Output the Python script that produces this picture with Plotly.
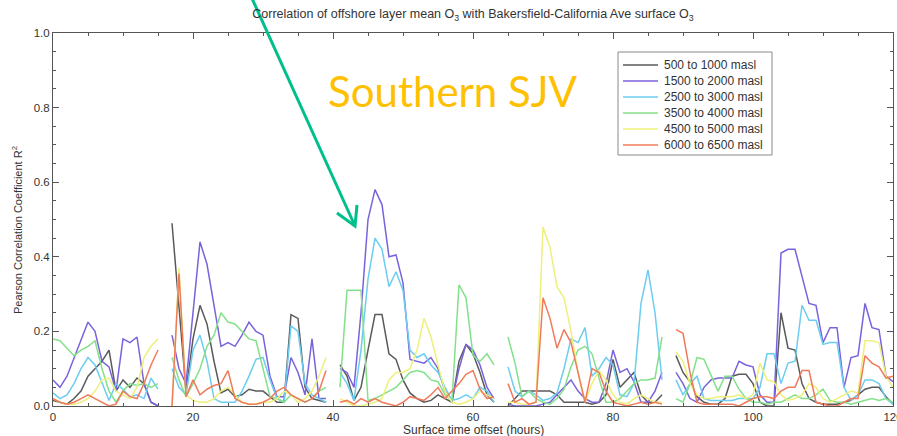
import plotly.graph_objects as go

# Hourly lag (hours) of surface O3 relative to the offshore layer mean
hours = list(range(0, 121))

# R^2 per altitude layer; None marks the gaps between daily segments
r2_500_1000 = [
    0.015, 0.01, 0.005, 0.02, 0.04, 0.08, 0.10, 0.12, 0.15, 0.04, 0.07, 0.05, 0.075, 0.06, 0.01, 0.0,
    None,
    0.49, 0.27, 0.04, 0.18, 0.27, 0.22, 0.12, 0.035, 0.045, 0.025, 0.03, 0.045, 0.04, 0.04, 0.025, 0.01,
    0.01, 0.245, 0.235, 0.05, 0.02, 0.015, 0.01,
    None,
    0.11, 0.08, 0.015, 0.05, 0.15, 0.245, 0.245, 0.14, 0.125, 0.07, 0.035, 0.02, 0.01, 0.015, 0.03, 0.02,
    0.01, 0.12, 0.165, 0.14, 0.09, 0.03, 0.01,
    None,
    0.0, 0.02, 0.04, 0.04, 0.04, 0.04, 0.04, 0.03, 0.01, 0.01, 0.01, 0.01, 0.005, 0.01, 0.03, 0.125,
    0.05, 0.07, 0.09, 0.03, 0.01, 0.01, 0.03,
    None,
    0.135, 0.09, 0.065, 0.025, 0.01, 0.005, 0.005, 0.02, 0.08, 0.085, 0.085, 0.06, 0.01, 0.0, 0.0, 0.25,
    0.155, 0.15, 0.06, 0.02, 0.01, 0.005, 0.005, 0.005, 0.01, 0.015, 0.03, 0.045, 0.05, 0.05, 0.025, 0.005,
]

r2_1500_2000 = [
    0.07, 0.05, 0.08, 0.13, 0.18, 0.225, 0.20, 0.12, 0.105, 0.04, 0.18, 0.17, 0.185, 0.06, 0.01, 0.0,
    None,
    0.19, 0.10, 0.06, 0.25, 0.44, 0.38, 0.27, 0.16, 0.17, 0.16, 0.19, 0.225, 0.20, 0.19, 0.08, 0.025,
    0.025, 0.13, 0.09, 0.03, 0.18, 0.02, 0.02,
    None,
    0.10, 0.09, 0.05, 0.25, 0.50, 0.58, 0.54, 0.40, 0.405, 0.33, 0.125, 0.12, 0.115, 0.13, 0.10, 0.04,
    0.015, 0.10, 0.165, 0.15, 0.11, 0.05, 0.02,
    None,
    0.005, 0.0, 0.0, 0.0, 0.0, 0.005, 0.01, 0.03, 0.05, 0.07, 0.04, 0.02, 0.01, 0.01, 0.06, 0.15,
    0.09, 0.10, 0.065, 0.01, 0.01, 0.04, 0.09,
    None,
    0.09, 0.06, 0.02, 0.01, 0.05, 0.07, 0.075, 0.075, 0.075, 0.12, 0.11, 0.105, 0.03, 0.01, 0.01, 0.41,
    0.42, 0.42, 0.345, 0.275, 0.27, 0.17, 0.21, 0.21, 0.05, 0.13, 0.135, 0.275, 0.21, 0.205, 0.08, 0.065,
]

r2_2500_3000 = [
    0.035, 0.02, 0.03, 0.06, 0.10, 0.13, 0.11, 0.06, 0.015, 0.06, 0.045, 0.025, 0.03, 0.02, 0.075, 0.045,
    None,
    0.10, 0.05, 0.03, 0.15, 0.19, 0.12, 0.02, 0.01, 0.01, 0.01, 0.04, 0.08, 0.125, 0.13, 0.07, 0.02,
    0.01, 0.215, 0.20, 0.06, 0.03, 0.02, 0.01,
    None,
    0.09, 0.06, 0.015, 0.15, 0.34, 0.45, 0.42, 0.32, 0.36, 0.31, 0.15, 0.13, 0.14, 0.11, 0.09, 0.05,
    0.015, 0.02, 0.03, 0.02, 0.05, 0.04, 0.01,
    None,
    0.105, 0.04, 0.025, 0.04, 0.03, 0.015, 0.02, 0.035, 0.10, 0.18, 0.17, 0.21, 0.08, 0.10, 0.13, 0.11,
    0.03, 0.025, 0.06, 0.275, 0.365, 0.25, 0.07,
    None,
    0.07, 0.03, 0.06, 0.08, 0.02, 0.015, 0.015, 0.015, 0.015, 0.02, 0.02, 0.02, 0.05, 0.14, 0.14, 0.06,
    0.115, 0.12, 0.27, 0.23, 0.23, 0.165, 0.17, 0.17, 0.05, 0.015, 0.03, 0.07, 0.07, 0.06, 0.02, 0.005,
]

r2_3500_4000 = [
    0.18, 0.175, 0.155, 0.135, 0.15, 0.16, 0.175, 0.10, 0.04, 0.01, 0.04, 0.06, 0.055, 0.06, 0.05, 0.06,
    None,
    0.13, 0.07, 0.025, 0.06, 0.10, 0.16, 0.19, 0.25, 0.225, 0.22, 0.20, 0.18, 0.175, 0.10, 0.025, 0.02,
    0.01, 0.03, 0.02, 0.01, 0.02, 0.04, 0.05,
    None,
    0.05, 0.31, 0.31, 0.31, 0.015, 0.02, 0.03, 0.04, 0.05, 0.07, 0.09, 0.095, 0.09, 0.07, 0.065, 0.03,
    0.015, 0.325, 0.29, 0.135, 0.12, 0.14, 0.11,
    None,
    0.185, 0.115, 0.025, 0.04, 0.02, 0.01, 0.005, 0.02, 0.045, 0.105, 0.15, 0.16, 0.14, 0.075, 0.01, 0.01,
    0.02, 0.04, 0.06, 0.07, 0.07, 0.075, 0.185,
    None,
    0.02, 0.01, 0.06, 0.13, 0.125, 0.08, 0.04, 0.08, 0.08, 0.045, 0.02, 0.01, 0.01, 0.005, 0.01, 0.01,
    0.02, 0.03, 0.02, 0.02, 0.03, 0.045, 0.015, 0.01, 0.01, 0.005, 0.01, 0.015, 0.02, 0.015, 0.02, 0.01,
]

r2_4500_5000 = [
    0.02, 0.01, 0.005, 0.005, 0.01, 0.02, 0.04, 0.07, 0.075, 0.04, 0.03, 0.02, 0.05, 0.13, 0.16, 0.18,
    None,
    0.0, 0.37, 0.03, 0.015, 0.01, 0.01, 0.02, 0.04, 0.05, 0.03, 0.01, 0.005, 0.005, 0.01, 0.01, 0.02,
    0.04, 0.03, 0.01, 0.02, 0.04, 0.08, 0.13,
    None,
    0.02, 0.01, 0.0, 0.0, 0.005, 0.01, 0.02, 0.07, 0.09, 0.09, 0.10, 0.15, 0.235, 0.185, 0.11, 0.04,
    0.01, 0.005, 0.01, 0.02, 0.04, 0.03, 0.02,
    None,
    0.01, 0.01, 0.005, 0.005, 0.01, 0.48, 0.425, 0.32, 0.29, 0.20, 0.09, 0.01, 0.06, 0.095, 0.07, 0.03,
    0.01, 0.005, 0.02, 0.03, 0.02, 0.01, 0.01,
    None,
    0.145, 0.12, 0.06, 0.03, 0.02, 0.02, 0.025, 0.025, 0.025, 0.03, 0.02, 0.03, 0.115, 0.07, 0.065, 0.03,
    0.015, 0.02, 0.03, 0.06, 0.05, 0.02, 0.01, 0.02, 0.03, 0.04, 0.035, 0.175, 0.175, 0.17, 0.08, 0.05,
]

r2_6000_6500 = [
    0.02, 0.01, 0.005, 0.01, 0.02, 0.03, 0.02, 0.01, 0.0, 0.005, 0.04, 0.025, 0.02, 0.06, 0.11, 0.15,
    None,
    0.0, 0.355, 0.025, 0.07, 0.03, 0.045, 0.055, 0.06, 0.095, 0.02, 0.01, 0.005, 0.005, 0.01, 0.02, 0.04,
    0.05, 0.03, 0.02, 0.01, 0.02, 0.04, 0.095,
    None,
    0.01, 0.015, 0.005, 0.02, 0.01, 0.02, 0.01, 0.005, 0.0, 0.01, 0.025, 0.02, 0.015, 0.03, 0.05, 0.02,
    0.04, 0.06, 0.085, 0.095, 0.045, 0.02, 0.025,
    None,
    0.06, 0.01, 0.02, 0.005, 0.01, 0.29, 0.235, 0.155, 0.205, 0.17, 0.09, 0.01, 0.10, 0.09, 0.04, 0.01,
    0.005, 0.0, 0.005, 0.01, 0.005, 0.01, 0.005,
    None,
    0.205, 0.195, 0.09, 0.01, 0.005, 0.005, 0.005, 0.005, 0.005, 0.0, 0.01, 0.02, 0.025, 0.025, 0.02, 0.04,
    0.05, 0.05, 0.095, 0.095, 0.01, 0.005, 0.0, 0.0, 0.01, 0.02, 0.02, 0.135, 0.115, 0.105, 0.075, 0.08,
]

layer_names = ["500 to 1000 masl", "1500 to 2000 masl", "2500 to 3000 masl",
               "3500 to 4000 masl", "4500 to 5000 masl", "6000 to 6500 masl"]
layer_series = [r2_500_1000, r2_1500_2000, r2_2500_3000,
                r2_3500_4000, r2_4500_5000, r2_6000_6500]
layer_colors = ["#5a5a5a", "#7a62dc", "#6ccdf0", "#84e08a", "#eef07a", "#f07a5a"]

# Plot-area geometry in pixels (used for overlay placement)
W, H = 897, 436
ML, MR, MT, MB = 53, 4, 33, 30
PW, PH = W - ML - MR, H - MT - MB


def to_paper(xp, yp):
    return (xp - ML) / PW, (H - MB - yp) / PH


fig = go.Figure()
for name, vals, col in zip(layer_names, layer_series, layer_colors):
    fig.add_trace(go.Scatter(
        x=hours, y=vals, name=name, mode="lines",
        line=dict(color=col, width=1.5), connectgaps=False,
    ))

axis_common = dict(
    showline=True, linecolor="#555555", linewidth=1, mirror="ticks",
    ticks="inside", ticklen=6, tickcolor="#555555", tickwidth=1,
    showgrid=False, zeroline=False,
    tickfont=dict(family="Liberation Sans, Arial, sans-serif", size=11.5, color="#333333"),
)

fig.update_xaxes(
    range=[0, 120], tickvals=[0, 20, 40, 60, 80, 100, 120],
    minor=dict(dtick=5, ticklen=3, ticks="inside", tickcolor="#555555", showgrid=False),
    automargin=False, ticklabeloverflow="allow", **axis_common,
)
fig.update_yaxes(
    range=[0, 1], tickvals=[0, 0.2, 0.4, 0.6, 0.8, 1.0], tickformat=".1f",
    minor=dict(dtick=0.05, ticklen=3, ticks="inside", tickcolor="#555555", showgrid=False),
    automargin=False, ticklabeloverflow="allow", **axis_common,
)

fig.update_layout(
    width=W, height=H,
    margin=dict(l=ML, r=MR, t=MT, b=MB, autoexpand=False),
    paper_bgcolor="white", plot_bgcolor="white",
    font=dict(family="Liberation Sans, Arial, sans-serif", color="#333333"),
    title=dict(
        text="Correlation of offshore layer mean O<sub>3</sub> with Bakersfield-California Ave surface O<sub>3</sub>",
        x=0.5, xref="paper", xanchor="center",
        y=1 - 14 / H, yref="container", yanchor="middle",
        font=dict(size=12.5, color="#333333"),
    ),
    showlegend=False,
)

# Legend box: frame, line samples and labels
bx0, by0 = to_paper(618, 52)
bx1, by1 = to_paper(772, 155)
fig.add_shape(type="rect", xref="paper", yref="paper",
              x0=bx0, y0=by1, x1=bx1, y1=by0,
              line=dict(color="#8a8a8a", width=1), fillcolor="white", layer="above")
row_y = [65, 81, 97, 113, 129, 145]
for name, col, ry in zip(layer_names, layer_colors, row_y):
    sx0, sy0 = to_paper(623, ry)
    sx1, _ = to_paper(658, ry)
    fig.add_shape(type="line", xref="paper", yref="paper",
                  x0=sx0, y0=sy0, x1=sx1, y1=sy0,
                  line=dict(color=col, width=1.5), layer="above")
    tx0, _ = to_paper(662, ry)
    fig.add_annotation(text=name, xref="paper", yref="paper", x=tx0, y=sy0,
                       xanchor="left", yanchor="middle", showarrow=False,
                       font=dict(size=12, color="#333333"))

# Axis titles
fig.add_annotation(
    text="Surface time offset (hours)", xref="paper", yref="paper",
    x=0.5, y=to_paper(0, 430)[1], xanchor="center", yanchor="middle",
    showarrow=False, font=dict(size=12, color="#333333"),
)
fig.add_annotation(
    text="Pearson Correlation Coefficient R<sup>2</sup>", xref="paper", yref="paper",
    x=to_paper(17, 0)[0], y=to_paper(0, 230)[1], xanchor="center", yanchor="middle",
    textangle=-90, showarrow=False, font=dict(size=11, color="#333333"),
)

# Region label
sx, sy = to_paper(452, 91)
fig.add_annotation(
    text="Southern SJV", xref="paper", yref="paper", x=sx, y=sy,
    xanchor="center", yanchor="middle", showarrow=False,
    font=dict(family="Lato, Open Sans, sans-serif", size=42, color="#FFC000"),
)

# Pointer to the mid-range peak
ax0, ay0 = to_paper(250, -6)
tx, ty = to_paper(355, 226)
h1x, h1y = to_paper(337, 213)
h2x, h2y = to_paper(357, 205)
arrow_col = "#00BF8C"
fig.add_shape(type="line", xref="paper", yref="paper",
              x0=ax0, y0=ay0, x1=tx, y1=ty,
              line=dict(color=arrow_col, width=3))
fig.add_shape(type="path", xref="paper", yref="paper",
              path=f"M {h1x},{h1y} L {tx},{ty} L {h2x},{h2y}",
              line=dict(color=arrow_col, width=3))

fig.write_html("out.html")
